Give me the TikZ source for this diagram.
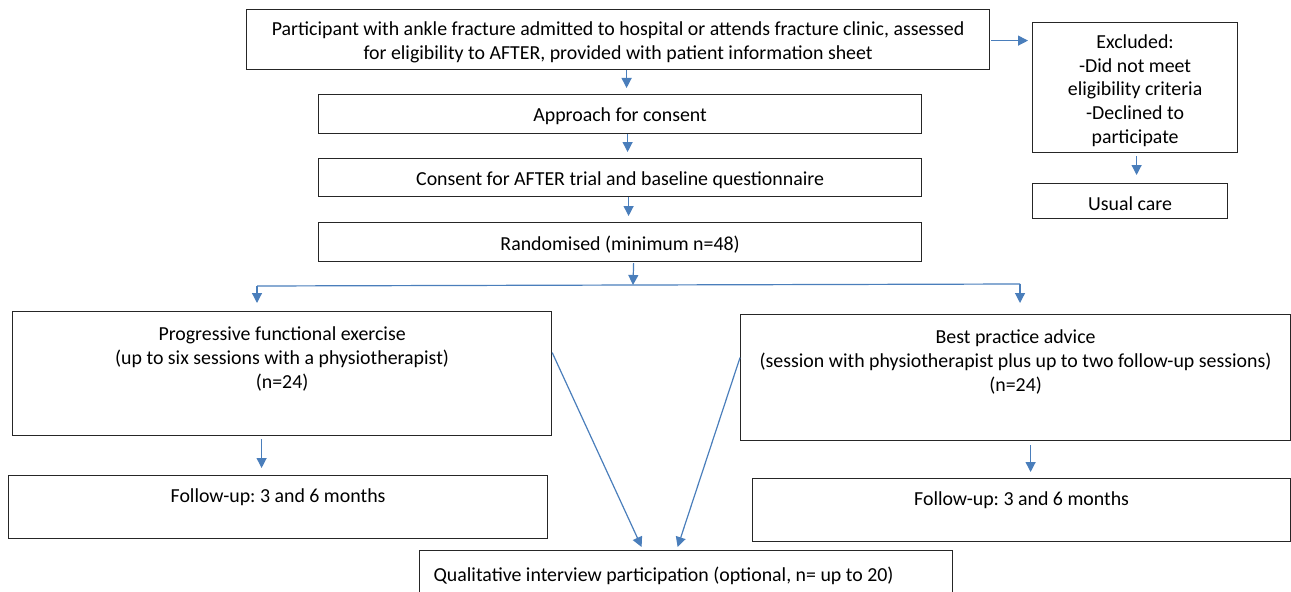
\documentclass[tikz,border=0pt]{standalone}
\usepackage{fontspec}
\setmainfont{Carlito}
\usetikzlibrary{calc,arrows.meta}
\definecolor{arrowblue}{RGB}{74,126,187}
\newcommand{\fs}{\fontsize{14.9}{17.8}\selectfont\frenchspacing}
\newcommand{\toptext}[4]{\parbox[c][#1][t]{#2}{\centering\vspace*{#3}#4\par}}
\begin{document}
\begin{tikzpicture}[x=0.75pt,y=-0.75pt,
  tbox/.style={draw=black!85, line width=0.9pt, anchor=north west, inner sep=0pt, font=\fs},
  arr/.style={draw=arrowblue, line width=0.9pt, -{Triangle[length=7.5pt,width=7.5pt]}},
  ln/.style={draw=arrowblue, line width=0.9pt}]
\useasboundingbox (0,0) rectangle (1291,592);

\node[tbox] (top) at (246,9) {\toptext{45pt}{557.25pt}{9.25pt}{Participant with ankle fracture admitted to hospital or attends fracture clinic, assessed\\for eligibility to AFTER, provided with patient information sheet}};
\node[tbox] (app) at (318,94) {\toptext{29.25pt}{452.25pt}{9.5pt}{Approach for consent}};
\node[tbox] (cons) at (318,158) {\toptext{28.5pt}{452.25pt}{9.5pt}{Consent for AFTER trial and baseline questionnaire}};
\node[tbox] (rand) at (318,222) {\toptext{29.25pt}{452.25pt}{10pt}{Randomised (minimum n=48)}};
\node[tbox] (excl) at (1032,22) {\toptext{97.5pt}{153.75pt}{9pt}{Excluded:\\-Did not meet\\eligibility criteria\\-Declined to\\participate}};
\node[tbox] (usual) at (1032,183) {\toptext{26.25pt}{146.25pt}{9.5pt}{Usual care}};

\node[tbox] (prog) at (12,311) {\toptext{93pt}{404.25pt}{11.5pt}{Progressive functional exercise\\(up to six sessions with a physiotherapist)\\(n=24)}};
\node[tbox] (best) at (740,314) {\toptext{94.5pt}{412.5pt}{11.5pt}{Best practice advice\\(session with physiotherapist plus up to two follow-up sessions)\\(n=24)}};
\node[tbox] (fl) at (8,475) {\toptext{47.25pt}{404.25pt}{9.5pt}{Follow-up: 3 and 6 months}};
\node[tbox] (fr) at (752,478) {\toptext{47.25pt}{403.5pt}{10pt}{Follow-up: 3 and 6 months}};
\node[tbox] (qual) at (419,550) {\parbox[c][40pt][t]{399.75pt}{\raggedright\vspace*{12pt}\hspace*{10.5pt}Qualitative interview participation (optional, n= up to 20)\par}};

\coordinate (bc) at (633,285);
\coordinate (bl) at (257,286);
\coordinate (bri) at (1020,284);

\draw[arr] ($(top.south)+(8.5,0)$) -- ($(app.north)+(6.5,-6)$);
\draw[arr] ($(app.south)+(7.5,0)$) -- ($(cons.north)+(7.5,-6)$);
\draw[arr] ($(cons.south)+(8.5,0)$) -- ($(rand.north)+(8.5,-6)$);
\draw[arr] ($(rand.south)+(13.5,1)$) -- (bc);
\draw[ln] (bl) -- (bri);
\draw[arr] (bl) -- ($(bl |- prog.north)+(0,-8)$);
\draw[arr] (bri) -- ($(bri |- best.north)+(0,-11)$);
\draw[arr] ($(top.east)+(1,1)$) -- ($(top.east -| excl.west)+(-4,1)$);
\draw[arr] ($(excl.south)+(1.5,3)$) -- ($(usual.north)+(6.5,-8)$);
\draw[arr] ($(prog.south)+(-20.5,3)$) -- ($(fl.north)+(-16.5,-7)$);
\draw[arr] ($(best.south)+(15,4)$) -- ($(fr.north)+(9,-6)$);
\draw[arr] ($(prog.east)+(0,-21)$) -- ($(qual.north)+(-44.5,-3)$);
\draw[arr] ($(best.west)+(0,-20)$) -- ($(qual.north)+(-8.5,-3)$);
\end{tikzpicture}
\end{document}
